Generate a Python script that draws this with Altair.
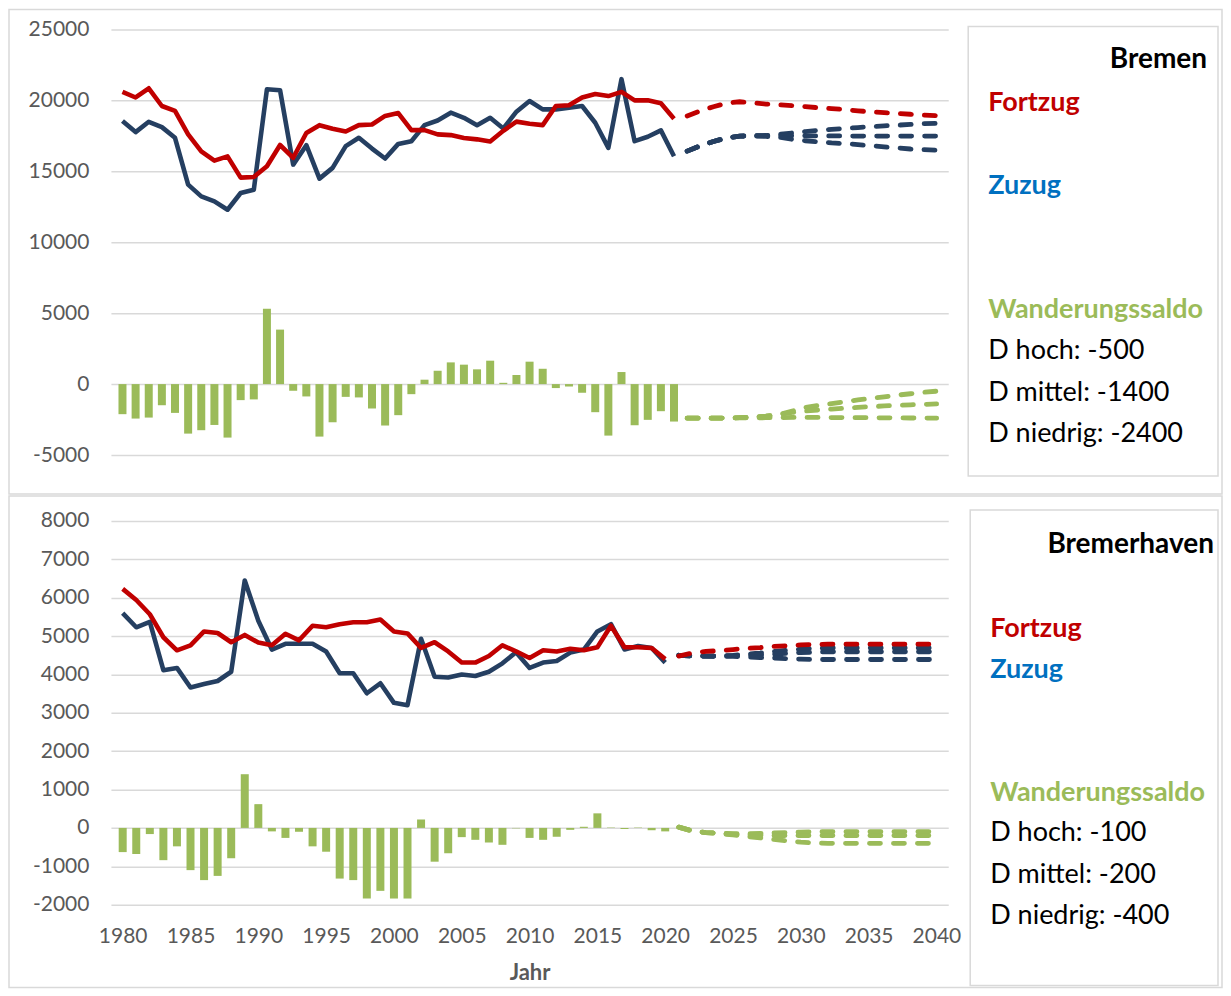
import altair as alt
import pandas as pd

# ---------------- Bremen (upper panel) ----------------
hb_years = list(range(1978, 2021))
hb_fortzug = [20600, 20200, 20850, 19600, 19250, 17600, 16400, 15750, 16050, 14550,
              14600, 15350, 16850, 15950, 17700, 18250, 18000, 17800, 18250, 18300,
              18900, 19100, 17900, 17900, 17600, 17550, 17350, 17250, 17100, 17850,
              18500, 18350, 18250, 19600, 19650, 20200, 20450, 20300, 20600, 20000,
              20000, 19800, 18700]
hb_zuzug = [18540, 17760, 18490, 18110, 17360, 14060, 13230, 12880, 12290, 13470,
            13700, 20780, 20710, 15470, 16840, 14480, 15240, 16770, 17360, 16600,
            15900, 16930, 17120, 18250, 18580, 19130, 18770, 18250, 18770, 18020,
            19200, 19950, 19360, 19360, 19480, 19600, 18420, 16650, 21490, 17120,
            17430, 17880, 16060]
hb_saldo = [-2120, -2430, -2360, -1490, -2030, -3490, -3250, -2880, -3770, -1130,
            -1080, 5310, 3840, -470, -870, -3700, -2690, -900, -940, -1720,
            -2920, -2190, -710, 310, 940, 1530, 1370, 1040, 1650, 90,
            640, 1580, 1080, -280, -170, -610, -1980, -3630, 850, -2900,
            -2520, -1910, -2640]
hb_proj_years = list(range(2021, 2041))
hb_fortzug_proj = [18900, 19250, 19550, 19800, 19900, 19820, 19740, 19680, 19620, 19550,
                   19480, 19420, 19350, 19260, 19190, 19130, 19070, 19020, 18960, 18920]
hb_zuzug_hoch = [16420, 16800, 17100, 17350, 17480, 17500, 17520, 17600, 17700, 17800,
                 17880, 17950, 18020, 18080, 18150, 18200, 18250, 18300, 18350, 18380]
hb_zuzug_mittel = [16420, 16800, 17100, 17350, 17480, 17500, 17510, 17500, 17500, 17500,
                   17490, 17490, 17490, 17480, 17480, 17480, 17480, 17480, 17480, 17480]
hb_zuzug_niedrig = [16420, 16800, 17100, 17350, 17480, 17480, 17460, 17400, 17250, 17150,
                    17080, 17000, 16950, 16880, 16800, 16720, 16640, 16570, 16520, 16480]
hb_saldo_hoch = [-2400, -2400, -2400, -2390, -2370, -2330, -2260, -2150, -1900, -1650,
                 -1500, -1380, -1240, -1120, -1010, -900, -780, -680, -580, -500]
hb_saldo_mittel = [-2400, -2400, -2400, -2390, -2370, -2330, -2260, -2150, -2000, -1900,
                   -1820, -1760, -1700, -1640, -1590, -1540, -1500, -1460, -1430, -1400]
hb_saldo_niedrig = [-2400, -2400, -2400, -2390, -2380, -2380, -2370, -2360, -2350, -2350,
                    -2350, -2360, -2360, -2370, -2370, -2380, -2380, -2390, -2390, -2400]
hb_legend = ["D hoch: -500", "D mittel: -1400", "D niedrig: -2400"]

# ---------------- Bremerhaven (lower panel) ----------------
bhv_years = list(range(1980, 2021))
bhv_fortzug = [6230, 5940, 5570, 4970, 4630, 4760, 5120, 5080, 4840, 5030,
               4830, 4760, 5060, 4890, 5270, 5230, 5310, 5360, 5360, 5430,
               5120, 5070, 4690, 4840, 4600, 4310, 4310, 4480, 4760, 4600,
               4430, 4630, 4600, 4670, 4630, 4710, 5270, 4710, 4710, 4690,
               4400]
bhv_zuzug = [5600, 5230, 5370, 4110, 4170, 3660, 3750, 3830, 4070, 6450,
             5400, 4650, 4800, 4800, 4800, 4600, 4030, 4030, 3510, 3770,
             3260, 3200, 4930, 3940, 3920, 4000, 3960, 4070, 4290, 4580,
             4170, 4310, 4350, 4570, 4650, 5120, 5310, 4650, 4740, 4690,
             4310]
bhv_saldo = [-630, -680, -160, -840, -480, -1100, -1360, -1250, -790, 1400,
             620, -90, -260, -100, -480, -620, -1320, -1360, -1840, -1640,
             -1840, -1840, 220, -880, -660, -240, -310, -380, -440, -10,
             -260, -310, -230, -50, 30, 380, 10, -30, 10, -60,
             -90]
bhv_proj_years = list(range(2021, 2041))
bhv_fortzug_proj = [4480, 4560, 4600, 4620, 4650, 4680, 4700, 4730, 4750, 4770,
                    4780, 4790, 4790, 4790, 4790, 4790, 4790, 4790, 4790, 4790]
bhv_zuzug_hoch = [4500, 4480, 4480, 4480, 4500, 4530, 4560, 4600, 4630, 4660,
                  4680, 4690, 4690, 4690, 4690, 4690, 4690, 4690, 4690, 4690]
bhv_zuzug_mittel = [4500, 4480, 4480, 4480, 4490, 4500, 4510, 4530, 4550, 4570,
                    4580, 4590, 4590, 4590, 4590, 4590, 4590, 4590, 4590, 4590]
bhv_zuzug_niedrig = [4500, 4480, 4480, 4470, 4470, 4460, 4440, 4430, 4410, 4400,
                     4390, 4390, 4390, 4390, 4390, 4390, 4390, 4390, 4390, 4390]
bhv_saldo_hoch = [20, -80, -120, -140, -150, -150, -140, -130, -120, -110,
                  -100, -100, -100, -100, -100, -100, -100, -100, -100, -100]
bhv_saldo_mittel = [20, -80, -120, -140, -160, -180, -190, -200, -200, -200,
                    -200, -200, -200, -200, -200, -200, -200, -200, -200, -200]
bhv_saldo_niedrig = [20, -80, -120, -150, -180, -220, -260, -300, -340, -370,
                     -390, -400, -400, -400, -400, -400, -400, -400, -400, -400]
bhv_legend = ["D hoch: -100", "D mittel: -200", "D niedrig: -400"]

x_ticks = list(range(1980, 2041, 5))

FONT = "Lato"
GRID = "#D9D9D9"
LABEL = "#595959"
RED = "#C00000"
NAVY = "#253F61"
GREEN = "#9BBB59"
BLUE_TXT = "#0070C0"
W = 838
LEG = 27


def long_proj(years, hoch, mittel, niedrig):
    rows = []
    for name, vals in (("hoch", hoch), ("mittel", mittel), ("niedrig", niedrig)):
        for y, v in zip(years, vals):
            rows.append({"year": y, "value": v, "szenario": name})
    return pd.DataFrame(rows)


def one():
    return pd.DataFrame({"k": [0]})


def txt(label, x, y, color="black", bold=False, align="left", size=LEG):
    kw = dict(text=label, font=FONT, fontSize=size, color=color, align=align, baseline="middle")
    if bold:
        kw["fontWeight"] = "bold"
    return alt.Chart(one()).mark_text(**kw).encode(x=alt.value(x), y=alt.value(y))


def panel(years, fort, zuz, saldo, pyears, fort_p, zh, zm, zn, sh, sm, sn,
          xdomain, ydomain, yvalues, H, show_x, frame, box, texts):
    hist = pd.DataFrame({"year": years, "fortzug": fort, "zuzug": zuz, "saldo": saldo})
    fproj = pd.DataFrame({"year": pyears, "value": fort_p})
    zproj = long_proj(pyears, zh, zm, zn)
    sproj = long_proj(pyears, sh, sm, sn)

    if show_x:
        xaxis = alt.Axis(values=x_ticks, labelExpr="'' + datum.value", grid=False, ticks=False,
                         domain=False, labelFontSize=21, labelColor=LABEL, labelFont=FONT,
                         labelPadding=21, title="Jahr", titleFontSize=22, titleFont=FONT,
                         titleColor=LABEL, titleFontWeight="bold", titlePadding=16)
    else:
        xaxis = None
    xs = alt.Scale(domain=xdomain, nice=False, zero=False)
    ys = alt.Scale(domain=ydomain, nice=False, zero=False)
    yaxis = alt.Axis(values=yvalues, labelExpr="'' + datum.value", grid=True, gridColor=GRID,
                     gridWidth=1.5, domain=False, ticks=False, labelFontSize=21,
                     labelColor=LABEL, labelFont=FONT, labelPadding=22, title=None)

    def X(f="year"):
        return alt.X(f"{f}:Q", scale=xs, axis=xaxis)

    def Y(f):
        return alt.Y(f"{f}:Q", scale=ys, axis=yaxis)

    fx0, fx1, fy0, fy1 = frame
    bx0, bx1, by0, by1 = box
    frame_l = alt.Chart(one()).mark_rect(fill="white", fillOpacity=0, stroke=GRID, strokeWidth=1.5).encode(
        x=alt.value(fx0), x2=alt.value(fx1), y=alt.value(fy0), y2=alt.value(fy1))
    box_l = alt.Chart(one()).mark_rect(fill="white", stroke=GRID, strokeWidth=1.5).encode(
        x=alt.value(bx0), x2=alt.value(bx1), y=alt.value(by0), y2=alt.value(by1))

    bars = alt.Chart(hist).mark_bar(size=8, color=GREEN).encode(x=X(), y=Y("saldo"))
    dash = dict(strokeWidth=4.8, strokeDash=[11, 13], strokeCap="round")
    g_proj = alt.Chart(sproj).mark_line(color=GREEN, **dash).encode(
        x=X(), y=Y("value"), detail="szenario:N")
    z_hist = alt.Chart(hist).mark_line(color=NAVY, strokeWidth=4.6, strokeJoin="round").encode(
        x=X(), y=Y("zuzug"))
    z_proj = alt.Chart(zproj).mark_line(color=NAVY, **dash).encode(
        x=X(), y=Y("value"), detail="szenario:N")
    f_hist = alt.Chart(hist).mark_line(color=RED, strokeWidth=4.6, strokeJoin="round").encode(
        x=X(), y=Y("fortzug"))
    f_proj = alt.Chart(fproj).mark_line(color=RED, **dash).encode(x=X(), y=Y("value"))

    return alt.layer(frame_l, box_l, bars, g_proj, z_hist, z_proj, f_hist, f_proj,
                     *texts).properties(width=W, height=H)


top = panel(hb_years, hb_fortzug, hb_zuzug, hb_saldo, hb_proj_years, hb_fortzug_proj,
            hb_zuzug_hoch, hb_zuzug_mittel, hb_zuzug_niedrig,
            hb_saldo_hoch, hb_saldo_mittel, hb_saldo_niedrig,
            xdomain=[1977.5, 2040.5], ydomain=[-5000, 25000],
            yvalues=list(range(-5000, 25001, 5000)), H=426, show_x=False,
            frame=(-102, 1112, -20, 465), box=(858, 1108, -3, 447),
            texts=[
                txt("Bremen", 1097, 31, bold=True, align="right", size=28),
                txt("Fortzug", 878, 74, color=RED, bold=True),
                txt("Zuzug", 878, 157, color=BLUE_TXT, bold=True),
                txt("Wanderungssaldo", 878, 281, color=GREEN, bold=True),
                txt(hb_legend[0], 878, 322),
                txt(hb_legend[1], 878, 364),
                txt(hb_legend[2], 878, 405),
            ])

bottom = panel(bhv_years, bhv_fortzug, bhv_zuzug, bhv_saldo, bhv_proj_years, bhv_fortzug_proj,
               bhv_zuzug_hoch, bhv_zuzug_mittel, bhv_zuzug_niedrig,
               bhv_saldo_hoch, bhv_saldo_mittel, bhv_saldo_niedrig,
               xdomain=[1979.5, 2040.5], ydomain=[-2000, 8000],
               yvalues=list(range(-2000, 8001, 1000)), H=384, show_x=True,
               frame=(-102, 1112, -25, 467), box=(860, 1108, -11, 465),
               texts=[
                   txt("Bremerhaven", 1104, 24, bold=True, align="right", size=28),
                   txt("Fortzug", 880, 108, color=RED, bold=True),
                   txt("Zuzug", 880, 149, color=BLUE_TXT, bold=True),
                   txt("Wanderungssaldo", 880, 272, color=GREEN, bold=True),
                   txt(bhv_legend[0], 880, 312),
                   txt(bhv_legend[1], 880, 354),
                   txt(bhv_legend[2], 880, 395),
               ])

chart = alt.vconcat(top, bottom, spacing=0).properties(padding=0).configure(
    font=FONT).configure_view(strokeWidth=0, stroke="transparent")

chart.save("out.html", embed_options={"renderer": "svg", "actions": False})
